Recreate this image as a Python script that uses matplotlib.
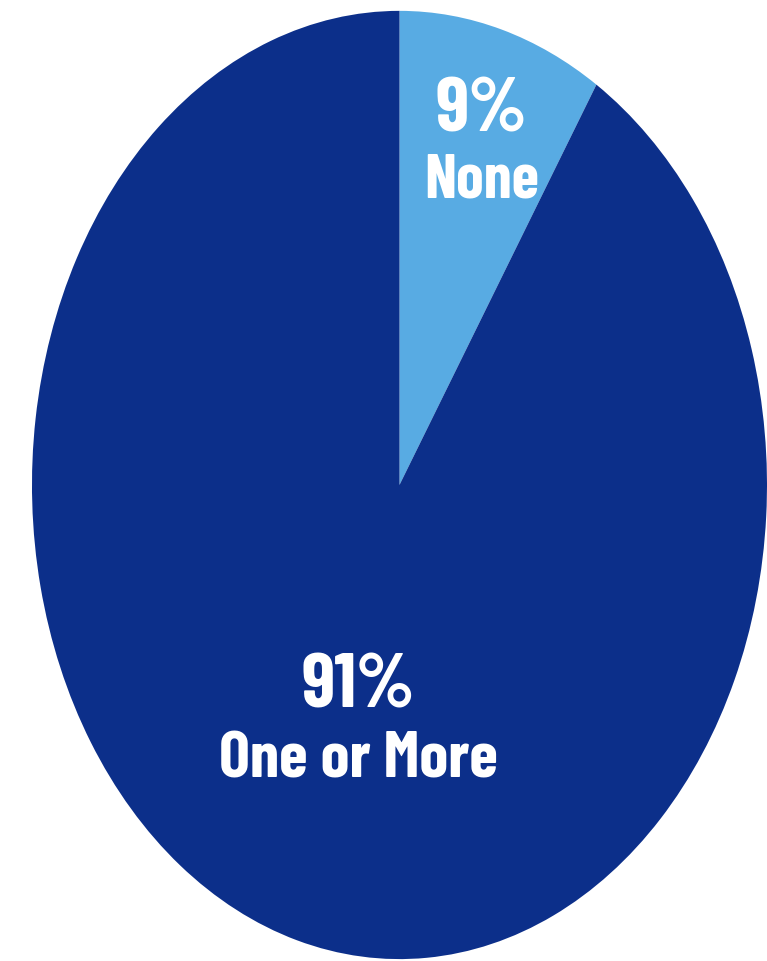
import matplotlib.pyplot as plt
from matplotlib import font_manager

# share of respondents
labels = ["None", "One or More"]
shares = [9, 91]
colors = ["#58abe3", "#0c2f8a"]

# bold condensed face for the slice labels
names = {f.name for f in font_manager.fontManager.ttflist}
family = next((n for n in ["Barlow Condensed", "Roboto Condensed", "Archivo Narrow",
                           "Liberation Sans Narrow"] if n in names),
              "DejaVu Sans")

fig = plt.figure(figsize=(7.67, 9.62), dpi=100)
ax = fig.add_axes([0, 0, 1, 1])

wedges, _ = ax.pie(
    shares,
    colors=colors,
    startangle=90,
    counterclock=False,
    radius=1,
    wedgeprops=dict(linewidth=0),
)

# stretch the pie into the tall ellipse
ax.set_aspect("auto")
ax.set_xlim(-1.087, 1.0)
ax.set_ylim(-1.004, 1.025)
ax.axis("off")

# label baselines (data coords) for each slice: (x, y_pct, y_name, pct size, name size)
label_pos = [(0.224, 0.747, 0.608, 55, 45), (-0.113, -0.468, -0.614, 55, 47)]
for lab, val, (x, yp, yn, sp, sn) in zip(labels, shares, label_pos):
    ax.text(x, yp, f"{val}%", ha="center", va="baseline", color="white",
            fontsize=sp, fontweight="bold", family=family)
    ax.text(x, yn, lab, ha="center", va="baseline", color="white",
            fontsize=sn, fontweight="bold", family=family)

fig.savefig("out.png", dpi=100)
